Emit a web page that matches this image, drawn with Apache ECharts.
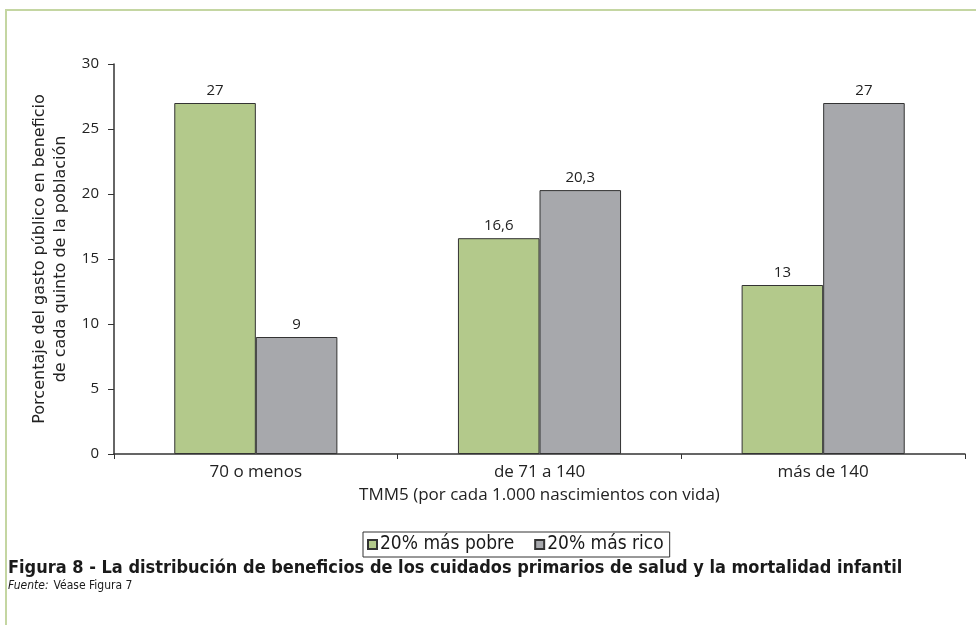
<!DOCTYPE html>
<html>
<head>
<meta charset="utf-8">
<script src="https://cdn.jsdelivr.net/npm/echarts@6/dist/echarts.min.js"></script>
<style>
  html, body { margin: 0; padding: 0; background: #fff; }
  #frame { position: absolute; left: 5px; top: 9px; width: 980px; height: 640px;
           border-left: 2px solid #c4d6a2; border-top: 2px solid #c4d6a2; box-sizing: border-box; }
  #chart { position: absolute; left: 0; top: 0; width: 976px; height: 625px; }
</style>
</head>
<body>
<div id="frame"></div>
<div id="chart"></div>
<script>
const categories = ['70 o menos', 'de 71 a 140', 'más de 140'];
const seriesNames = ['20% más pobre', '20% más rico'];
const pobre = [27, 16.6, 13];
const rico = [9, 20.3, 27];
const yTicks = [0, 5, 10, 15, 20, 25, 30];

const fmt = v => String(v).replace('.', ',');
const FONT = '"Open Sans", Lato, sans-serif';
const WIDE = '"DejaVu Sans", Verdana, sans-serif';
const NARROW = '"Liberation Sans Narrow", "DejaVu Sans Condensed", sans-serif';

const chart = echarts.init(document.getElementById('chart'), null, { renderer: 'canvas' });
chart.setOption({
  backgroundColor: 'transparent',
  animation: false,
  title: [{
    text: 'Figura 8 - La distribución de beneficios de los cuidados primarios de salud y la mortalidad infantil',
    left: 3, top: 554,
    textStyle: { fontFamily: NARROW, fontWeight: 'bold', fontSize: 18, color: '#1a1a1a' }
  }, {
    text: '{i|Fuente:} {n|Véase Figura 7}',
    left: 3, top: 572,
    textStyle: {
      fontWeight: 'normal',
      rich: {
        i: { fontFamily: NARROW, fontStyle: 'italic', fontWeight: 'normal', fontSize: 12, color: '#1a1a1a' },
        n: { fontFamily: NARROW, fontWeight: 'normal', fontSize: 12, color: '#1a1a1a' }
      }
    }
  }],
  legend: {
    data: seriesNames,
    left: 363, top: 532,
    borderColor: '#333', borderWidth: 1,
    padding: [3, 6, 3, 4],
    itemWidth: 9, itemHeight: 9, itemGap: 20,
    icon: 'rect',
    textStyle: { fontFamily: NARROW, fontSize: 19, color: '#1a1a1a', padding: [0, 0, 0, -2] }
  },
  grid: { left: 114, top: 64, right: 11, bottom: 171, containLabel: false },
  xAxis: {
    type: 'category',
    data: categories,
    name: 'TMM5 (por cada 1.000 nascimientos con vida)',
    nameLocation: 'middle', nameGap: 33,
    nameTextStyle: { fontFamily: FONT, fontSize: 17, color: '#222' },
    axisLine: { lineStyle: { color: '#333', width: 1.5 } },
    axisTick: { show: true, length: 5, lineStyle: { color: '#333' } },
    axisLabel: { fontFamily: FONT, fontSize: 17, color: '#222', margin: 10 }
  },
  yAxis: {
    type: 'value', min: 0, max: 30, interval: 5,
    name: 'Porcentaje del gasto público en beneficio\nde cada quinto de la población',
    nameLocation: 'middle', nameRotate: 90, nameGap: 35,
    nameTextStyle: { fontFamily: WIDE, fontSize: 16, color: '#222', lineHeight: 21 },
    splitLine: { show: false },
    axisLine: { show: true, lineStyle: { color: '#333', width: 1.5 } },
    axisTick: { show: true, length: 6, lineStyle: { color: '#333' } },
    axisLabel: { fontFamily: FONT, fontSize: 15, color: '#222', margin: 15,
      formatter: v => yTicks.includes(v) ? String(v) : '' }
  },
  series: [{
    name: seriesNames[0], type: 'bar', data: pobre,
    barGap: '0%', barCategoryGap: '42.5%',
    itemStyle: { color: '#b3c98b', borderColor: '#333', borderWidth: 1 },
    label: { show: true, position: 'top', distance: 5, fontFamily: FONT, fontSize: 15, color: '#222',
      formatter: p => fmt(p.value) }
  }, {
    name: seriesNames[1], type: 'bar', data: rico,
    barGap: '0%', barCategoryGap: '42.5%',
    itemStyle: { color: '#a7a8ac', borderColor: '#333', borderWidth: 1 },
    label: { show: true, position: 'top', distance: 5, fontFamily: FONT, fontSize: 15, color: '#222',
      formatter: p => fmt(p.value) }
  }]
});
</script>
</body>
</html>
